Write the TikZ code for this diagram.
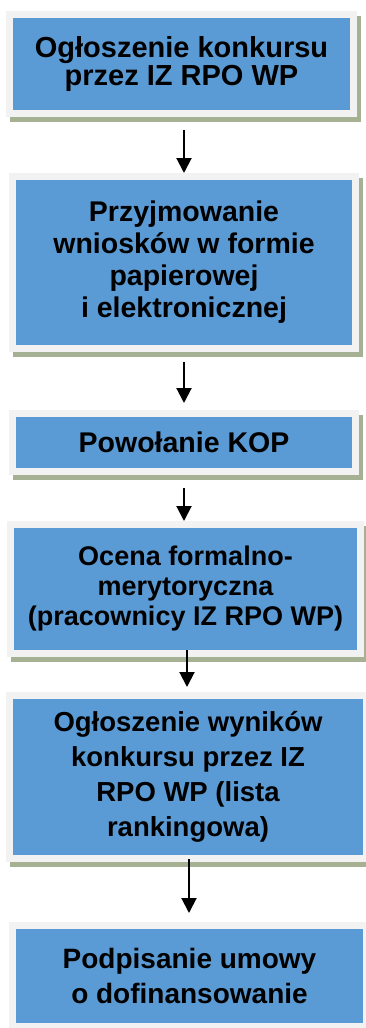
\documentclass[tikz,border=0pt]{standalone}
\usepackage{fontspec}
\setmainfont{Liberation Sans}
\usetikzlibrary{arrows.meta,shadows}
\definecolor{boxblue}{RGB}{91,155,213}
\definecolor{framegray}{RGB}{242,242,242}
\definecolor{shadowgreen}{RGB}{166,176,146}
\begin{document}
\begin{tikzpicture}[x=1pt, y=-1pt, >={Triangle[length=15pt,width=15pt]},
  krok/.style={rectangle, fill=boxblue, draw=framegray, line width=7pt, inner sep=0pt, align=center,
    drop shadow={shadow xshift=3.5pt, shadow yshift=-5pt, fill=shadowgreen, draw=shadowgreen, line width=7pt, opacity=1}},
  strzalka/.style={->, line width=2pt}]
 \fill[white] (0,0) rectangle (365,1028);
 \useasboundingbox (0,0) rectangle (365,1028);
 \node[krok, minimum width=344pt, minimum height=99pt, font=\bfseries\fontsize{29}{28}\selectfont] (b1) at (181.5,64) {Ogłoszenie konkursu\\przez IZ RPO WP};
 \node[krok, minimum width=343pt, minimum height=172pt, font=\bfseries\fontsize{28.5}{32}\selectfont] (b2) at (184,262.5) {Przyjmowanie\\wniosków w formie\\papierowej\\i elektronicznej};
 \node[krok, minimum width=343pt, minimum height=58pt, font=\bfseries\fontsize{28.5}{30}\selectfont] (b3) at (184,442.5) {Powołanie KOP};
 \node[krok, minimum width=350pt, minimum height=129pt, font=\bfseries\fontsize{27}{30}\selectfont] (b4) at (185.5,589) {Ocena formalno-\\merytoryczna\\(pracownicy IZ RPO WP)};
 \node[krok, minimum width=357pt, minimum height=163pt, font=\bfseries\fontsize{27.5}{35}\selectfont] (b5) at (188,777) {Ogłoszenie wyników\\konkursu przez IZ\\RPO WP (lista\\rankingowa)};
 \node[krok, minimum width=354pt, minimum height=101pt, font=\bfseries\fontsize{28}{35}\selectfont] (b6) at (189.5,976) {Podpisanie umowy\\o dofinansowanie};
 \draw[strzalka]([xshift=2.5pt,yshift=-13pt]b1.south)--(b2.north);
 \draw[strzalka]([yshift=-10pt]b2.south)--([yshift=7pt]b3.north);
 \draw[strzalka]([yshift=-13pt]b3.south)--([xshift=-1.5pt]b4.north);
 \draw[strzalka]([xshift=1.5pt,yshift=7pt]b4.south)--([xshift=-1pt,yshift=5pt]b5.north);
 \draw[strzalka]([xshift=1pt,yshift=3pt]b5.south)--([xshift=-0.5pt,yshift=9pt]b6.north);
\end{tikzpicture}
\end{document}
